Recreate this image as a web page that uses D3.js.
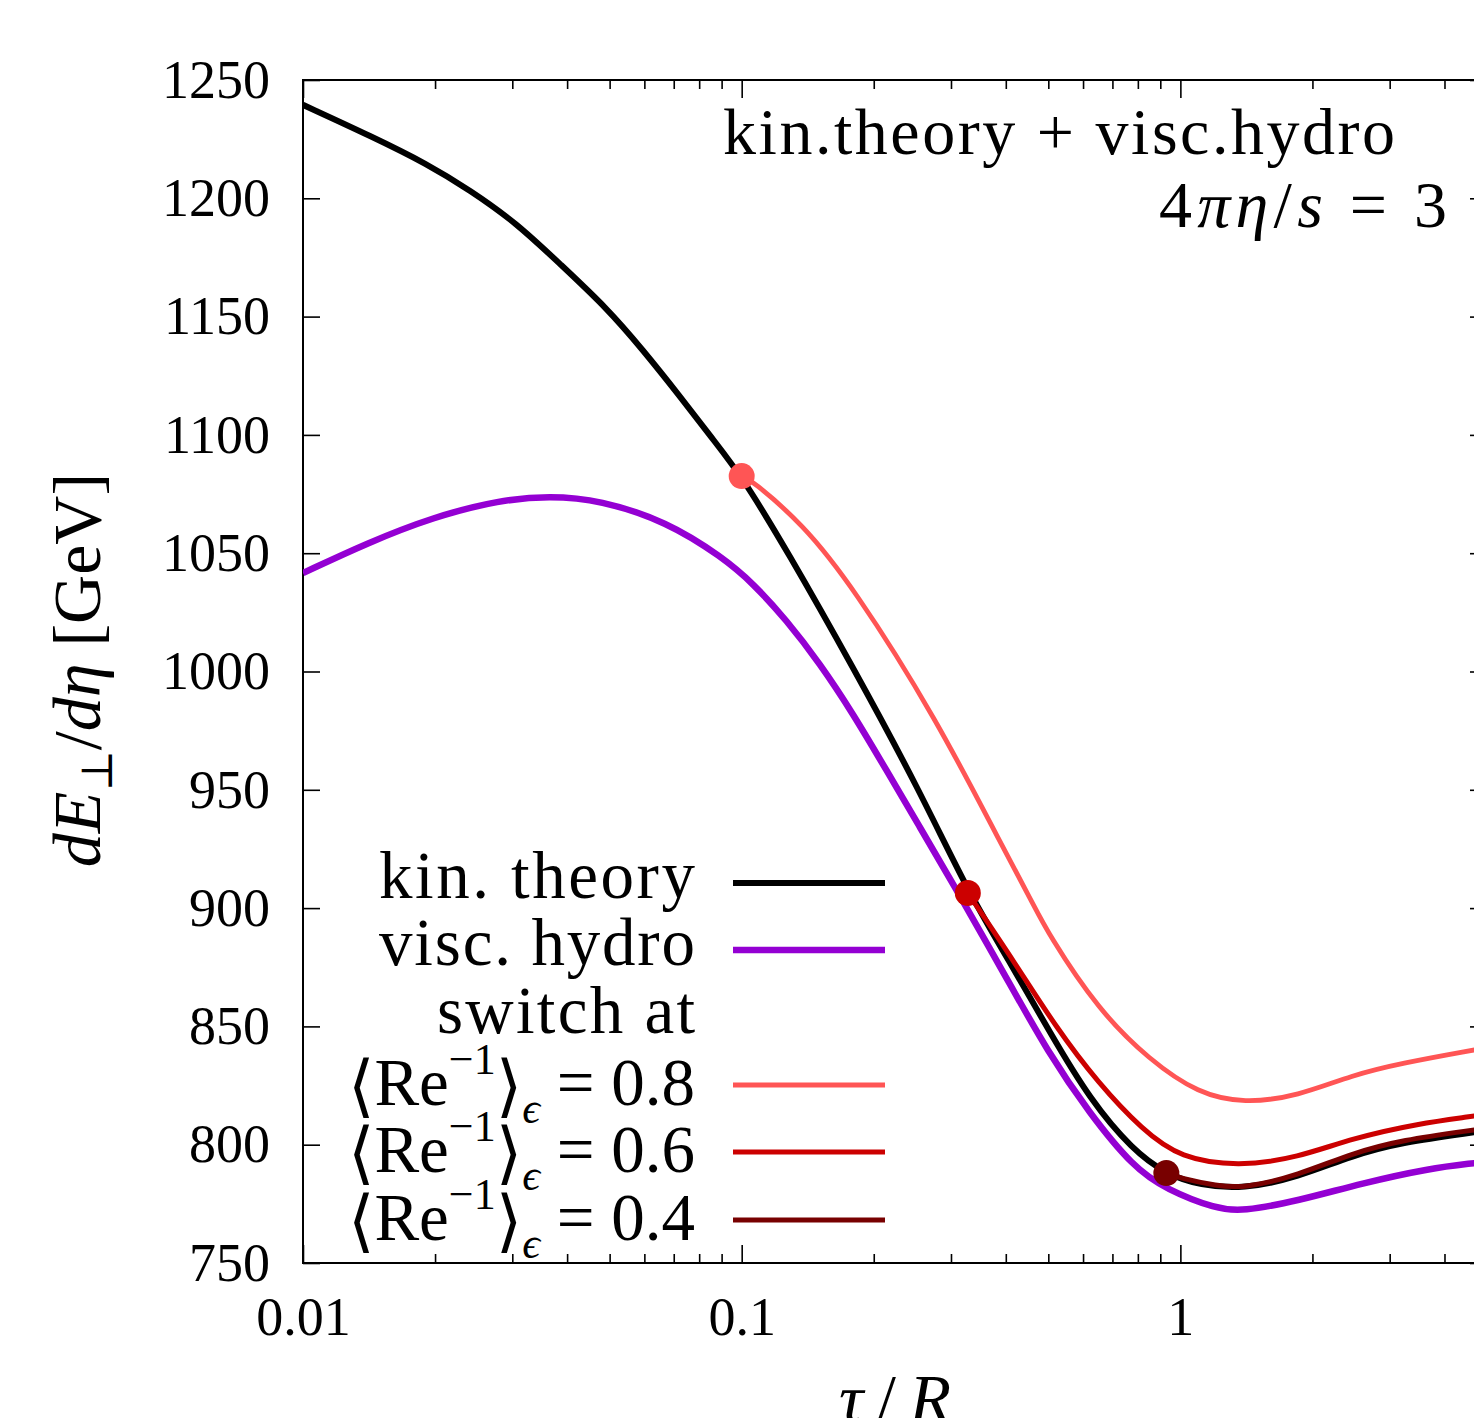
<!DOCTYPE html>
<html>
<head>
<meta charset="utf-8">
<script src="https://cdn.jsdelivr.net/npm/d3@7"></script>
<style>
  body { margin: 0; background: #fff; }
  svg { display: block; font-family: "Liberation Serif", "DejaVu Serif", serif; }
</style>
</head>
<body>
<svg id="chart" width="1474" height="1418"></svg>
<script>
// values (tau/R, dE/deta in GeV)
const kinTau = [0.01, 0.0144, 0.0192, 0.024, 0.0307, 0.0384, 0.0493, 0.0595, 0.0722, 0.0858, 0.1, 0.1266, 0.1792, 0.254, 0.3277, 0.4064, 0.5055, 0.6226, 0.7781, 0.929, 1.11, 1.39, 1.85, 2.47, 3.2, 4.65, 5]
const kinVal = [1239.5, 1226, 1214.5, 1203.5, 1189.5, 1172.5, 1153.6, 1136, 1116.5, 1098.3, 1082.6, 1051.4, 1002, 950, 907, 878, 847, 819, 797.8, 787.5, 782.8, 781.2, 786.2, 795.5, 801, 805.2, 806]

const hydroTau = [0.01, 0.014, 0.0198, 0.0281, 0.0365, 0.0475, 0.0673, 0.0906, 0.1061, 0.1264, 0.1506, 0.1793, 0.2136, 0.2544, 0.3029, 0.4, 0.5, 0.62, 0.78, 0.93, 1.21, 1.38, 1.85, 2.6, 3.7, 4.65, 5]
const hydroVal = [1041.6, 1054.3, 1065.3, 1072.5, 1074.2, 1072.5, 1063.5, 1048.2, 1037.3, 1021.8, 1003.5, 982.3, 958.4, 934.4, 910.5, 871, 838.8, 813.4, 790.6, 781, 772.8, 771.8, 776.2, 783.8, 790, 792.2, 792.8]

const sw08Tau = [0.1, 0.105, 0.1374, 0.1793, 0.2777, 0.394, 0.4571, 0.5, 0.65, 0.85, 1.1, 1.4, 1.85, 2.47, 3.2, 4.65, 5]
const sw08Val = [1082.6, 1081, 1062.6, 1035.9, 980.2, 925.5, 903.4, 889, 857, 835.8, 821.5, 817.5, 820.5, 829.5, 834.5, 840, 841]

const sw06Tau = [0.3277, 0.42, 0.52, 0.65, 0.82, 1.0, 1.36, 1.85, 2.47, 3.5, 4.65, 5]
const sw06Val = [906.4, 876.8, 849.7, 826, 806.2, 794.3, 790.8, 794.5, 802.8, 809, 812, 813]

const sw04Tau = [0.929, 1.0, 1.21, 1.4, 1.85, 2.47, 3.2, 4.65, 5]
const sw04Val = [788, 785.8, 782.6, 781.6, 787, 796.5, 802, 806.2, 807]

const xMajor = [0.01, 0.1, 1]
const xLabels = ['0.01', '0.1', '1']
const yTicks = [750, 800, 850, 900, 950, 1000, 1050, 1100, 1150, 1200, 1250]
const reValues = ['0.8', '0.6', '0.4']

const colors = {
  kin: '#000000',
  hydro: '#9400d3',
  sw08: '#ff5555',
  sw06: '#cc0000',
  sw04: '#780000',
}

function zip(ts, vs) {
  return ts.map((t, i) => ({ t: t, v: vs[i] }))
}

function minorTicks(lo, hi) {
  const out = []
  for (let dec = 0.01; dec < hi; dec *= 10) {
    for (let k = 2; k <= 9; k++) {
      const v = +(k * dec).toPrecision(3)
      if (v > lo && v < hi) out.push(v)
    }
  }
  return out
}

const svg = d3.select('#chart')
const plotL = 303, plotR = 1487, plotT = 80, plotB = 1263

const x = d3.scaleLog().domain([0.01, 5]).range([plotL, plotR])
const y = d3.scaleLinear().domain([750, 1250]).range([plotB, plotT])

svg.append('defs').append('clipPath').attr('id', 'plot')
  .append('rect')
    .attr('x', plotL).attr('y', plotT)
    .attr('width', plotR - plotL).attr('height', plotB - plotT)

// axes
const minor = minorTicks(0.01, 5)

svg.append('g')
  .attr('class', 'axis')
  .attr('transform', `translate(0,${plotB})`)
  .call(d3.axisBottom(x).tickValues(xMajor).tickSize(-18).tickPadding(34)
    .tickFormat((d, i) => xLabels[i]))

svg.append('g')
  .attr('class', 'axis')
  .attr('transform', `translate(0,${plotB})`)
  .call(d3.axisBottom(x).tickValues(minor).tickSize(-9).tickFormat(''))

svg.append('g')
  .attr('class', 'axis')
  .attr('transform', `translate(0,${plotT})`)
  .call(d3.axisTop(x).tickValues(xMajor).tickSize(-18).tickFormat(''))

svg.append('g')
  .attr('class', 'axis')
  .attr('transform', `translate(0,${plotT})`)
  .call(d3.axisTop(x).tickValues(minor).tickSize(-9).tickFormat(''))

svg.append('g')
  .attr('class', 'axis')
  .attr('transform', `translate(${plotL},0)`)
  .call(d3.axisLeft(y).tickValues(yTicks).tickSize(-17).tickPadding(33).tickFormat(d3.format('d')))

svg.append('g')
  .attr('class', 'axis')
  .attr('transform', `translate(${plotR},0)`)
  .call(d3.axisRight(y).tickValues(yTicks).tickSize(-17).tickFormat(''))

svg.selectAll('.axis .domain').remove()
svg.selectAll('.axis line').attr('stroke', '#000').attr('stroke-width', 1.6)
svg.selectAll('.axis text')
  .attr('font-family', '"Liberation Serif", serif')
  .attr('font-size', 54)
  .attr('fill', '#000')

svg.append('rect')
  .attr('x', plotL).attr('y', plotT)
  .attr('width', plotR - plotL).attr('height', plotB - plotT)
  .attr('fill', 'none').attr('stroke', '#000').attr('stroke-width', 2)

// curves
const line = d3.line()
  .x(d => x(d.t))
  .y(d => y(d.v))
  .curve(d3.curveBasis)

const series = [
  { key: 'hydro', data: zip(hydroTau, hydroVal), w: 6.5 },
  { key: 'kin', data: zip(kinTau, kinVal), w: 6 },
  { key: 'sw08', data: zip(sw08Tau, sw08Val), w: 4.8 },
  { key: 'sw06', data: zip(sw06Tau, sw06Val), w: 5 },
  { key: 'sw04', data: zip(sw04Tau, sw04Val), w: 5 },
]

const plot = svg.append('g').attr('clip-path', 'url(#plot)')

plot.selectAll('path.curve')
  .data(series)
  .enter()
  .append('path')
    .attr('class', 'curve')
    .attr('d', s => line(s.data))
    .attr('fill', 'none')
    .attr('stroke', s => colors[s.key])
    .attr('stroke-width', s => s.w)
    .attr('stroke-linejoin', 'round')

// switching points
const switches = series.slice(2).map(s => ({ key: s.key, d: s.data[0] }))
svg.selectAll('circle.switch')
  .data(switches)
  .enter()
  .append('circle')
    .attr('cx', s => x(s.d.t))
    .attr('cy', s => y(s.d.v))
    .attr('r', 13)
    .attr('fill', s => colors[s.key])

// annotation
const note = svg.append('g').attr('font-size', 66).attr('fill', '#000')
note.append('text')
  .attr('x', 1395).attr('y', 154)
  .attr('text-anchor', 'end')
  .attr('textLength', 672).attr('lengthAdjust', 'spacing')
  .text('kin.theory + visc.hydro')

const eta = note.append('text')
  .attr('x', 1447).attr('y', 227)
  .attr('text-anchor', 'end')
  .attr('textLength', 288).attr('lengthAdjust', 'spacing')
eta.append('tspan').text('4')
eta.append('tspan').attr('font-style', 'italic').text('πη')
eta.append('tspan').text('/')
eta.append('tspan').attr('font-style', 'italic').text('s')
eta.append('tspan').text(' = 3')

// legend
const legend = svg.append('g').attr('font-size', 67).attr('fill', '#000')
const rowY = [898, 965, 1033, 1105, 1172, 1240]
const plain = [
  { label: 'kin. theory', key: 'kin', w: 6, len: 316 },
  { label: 'visc. hydro', key: 'hydro', w: 6.5, len: 316 },
  { label: 'switch at', key: null, len: 258 },
]

plain.forEach((row, i) => {
  legend.append('text')
    .attr('x', 695).attr('y', rowY[i])
    .attr('text-anchor', 'end')
    .attr('textLength', row.len).attr('lengthAdjust', 'spacing')
    .text(row.label)
  if (row.key) {
    legend.append('line')
      .attr('x1', 733).attr('x2', 885)
      .attr('y1', rowY[i] - 15).attr('y2', rowY[i] - 15)
      .attr('stroke', colors[row.key]).attr('stroke-width', row.w)
  }
})

const reKeys = ['sw08', 'sw06', 'sw04']
reValues.forEach((val, i) => {
  const yy = rowY[i + 3]
  const t = legend.append('text')
    .attr('x', 695).attr('y', yy)
    .attr('text-anchor', 'end')
  t.append('tspan').attr('font-size', 68).attr('font-family', '"DejaVu Sans", sans-serif')
    .attr('dy', 4).text('⟨')
  t.append('tspan').attr('dy', -4).text('Re')
  t.append('tspan').attr('font-size', 44).attr('dy', -31).text('−1')
  t.append('tspan').attr('dy', 35).attr('font-size', 68)
    .attr('font-family', '"DejaVu Sans", sans-serif').text('⟩')
  t.append('tspan').attr('font-size', 44).attr('font-style', 'italic')
    .attr('dy', 14).text('ϵ')
  t.append('tspan').attr('dy', -18).text(' = ' + val)
  legend.append('line')
    .attr('x1', 733).attr('x2', 885)
    .attr('y1', yy - 20).attr('y2', yy - 20)
    .attr('stroke', colors[reKeys[i]]).attr('stroke-width', 5)
})

// axis titles
const yTitle = svg.append('text')
  .attr('transform', 'translate(100,670) rotate(-90)')
  .attr('text-anchor', 'middle')
  .attr('font-size', 68)
yTitle.append('tspan').attr('font-style', 'italic').text('dE')
yTitle.append('tspan').attr('font-size', 44).attr('dy', 12).text('⊥')
yTitle.append('tspan').attr('dy', -12).text('/')
yTitle.append('tspan').attr('font-style', 'italic').text('dη')
yTitle.append('tspan').text(' [GeV]')

const xTitle = svg.append('text')
  .attr('x', 895).attr('y', 1421)
  .attr('text-anchor', 'middle')
  .attr('font-size', 68)
  .attr('textLength', 112).attr('lengthAdjust', 'spacing')
xTitle.append('tspan').attr('font-style', 'italic').text('τ')
xTitle.append('tspan').text('/')
xTitle.append('tspan').attr('font-style', 'italic').text('R')
</script>
</body>
</html>
